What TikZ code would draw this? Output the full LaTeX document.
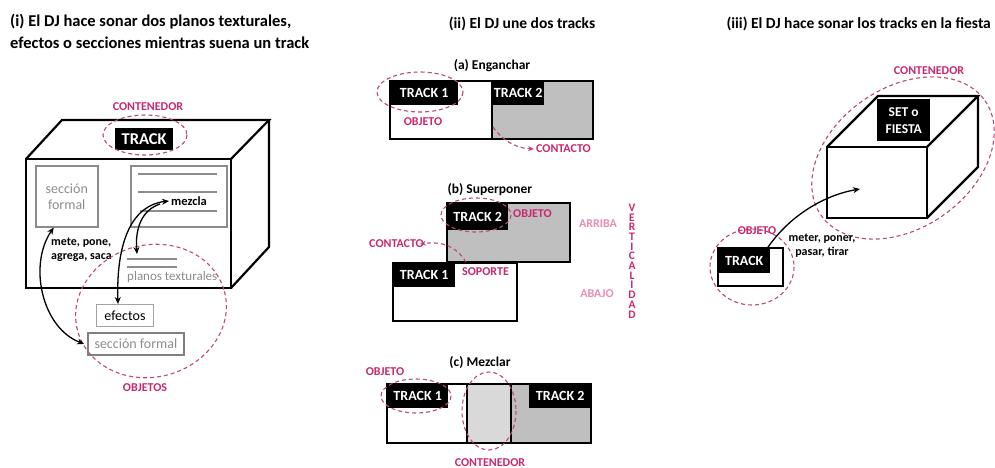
\documentclass[tikz,border=0pt]{standalone}
\usepackage{fontspec}
\setmainfont{Carlito}
\usetikzlibrary{arrows.meta}
\definecolor{pk}{RGB}{200,40,110}
\definecolor{pkl}{RGB}{232,140,180}
\definecolor{pkd}{RGB}{190,70,120}
\definecolor{gfill}{RGB}{191,191,191}
\definecolor{glt}{RGB}{217,217,217}
\definecolor{gtx}{RGB}{140,140,140}
\definecolor{gbd}{RGB}{128,128,128}
\begin{document}
\begin{tikzpicture}[x=1pt,y=-1pt,
  ttl/.style={font=\fontsize{16.5}{22}\selectfont\bfseries, inner sep=0, align=left},
  ttlb/.style={font=\fontsize{15.5}{20}\selectfont\bfseries, inner sep=0},
  sub/.style={font=\fontsize{13.5}{16}\selectfont\bfseries, inner sep=0},
  lab/.style={font=\fontsize{12}{14}\selectfont\bfseries, text=pk, inner sep=0},
  labl/.style={font=\fontsize{12}{14}\selectfont\bfseries, text=pkl, inner sep=0},
  blk/.style={fill=black, draw=none, text=white, font=\fontsize{14}{16}\selectfont\bfseries, inner sep=0, anchor=north west},
  verb/.style={font=\fontsize{12}{14}\selectfont\bfseries, inner sep=0},
  thk/.style={line width=2.2pt, line join=miter},
  gline/.style={draw=gtx, line width=1.5pt},
  pdash/.style={draw=pkd, dash pattern=on 4pt off 3pt, line width=1.1pt},
  arr/.style={line width=1.3pt, -{Stealth[length=7pt,width=6pt]}},
  darr/.style={line width=1.3pt, {Stealth[length=7pt,width=6pt]}-{Stealth[length=7pt,width=6pt]}},
  parr/.style={draw=pkd, dash pattern=on 4pt off 3pt, line width=1.1pt, -{Stealth[length=6pt,width=5pt]}}
]
\useasboundingbox (0,0) rectangle (995,468);

% ---------- titles ----------
\node[ttl, anchor=north west] (t1) at (10,14) {(i) El DJ hace sonar dos planos texturales,\\efectos o secciones mientras suena un track};
\node[ttlb] (t2) at (522,24) {(ii) El DJ une dos tracks};
\node[ttlb, anchor=east] (t3) at (991,24) {(iii) El DJ hace sonar los tracks en la fiesta};

% ---------- panel (i) ----------
\draw[thk] (26,159) rectangle (231,288);
\draw[thk] (26,159) -- (62,120) -- (269,120) -- (231,159);
\draw[thk] (269,120) -- (269,247) -- (231,288);

\node[blk, minimum width=58, minimum height=22, font=\fontsize{16.5}{18}\selectfont\bfseries] (trk) at (115,128) {TRACK};
\draw[pdash] (145,135) ellipse [x radius=42, y radius=20];
\node[lab] (cont1) at (148,107) {CONTENEDOR};

\node[gline, anchor=north west, minimum width=62, minimum height=61, inner sep=0, text=gtx, align=center,
      font=\fontsize{14}{16}\selectfont] (sf1) at (35,165) {sección\\formal};
\node[gline, anchor=north west, minimum width=96, minimum height=61, inner sep=0] (mz) at (130,165) {};
\draw[gline] (138,174) -- (217,174);
\draw[gline] (138,192) -- (217,192);
\draw[gline] (140,211) -- (217,211);
\node[verb, anchor=west, font=\fontsize{12.5}{14}\selectfont\bfseries] (mzl) at (171,201) {mezcla};

\node[verb, anchor=west, align=left] (mete) at (51,250) {mete, pone,\\agrega, saca};

\draw[gline, line width=1.3pt] (127,259) -- (177,259);
\draw[gline, line width=1.3pt] (127,267) -- (177,267);
\node[inner sep=0, anchor=west, text=gtx, font=\fontsize{13}{15}\selectfont] (pl) at (127,277) {planos texturales};
\coordinate (plt) at (137,254);

\draw[pdash, rotate around={15:(151,311)}] (151,311) ellipse [x radius=76, y radius=66];
\node[draw=gtx!80, line width=1pt, anchor=north west, minimum width=57, minimum height=22, inner sep=0,
      font=\fontsize{14}{16}\selectfont] (ef) at (96,304) {efectos};
\node[draw=gbd, line width=1.8pt, anchor=north west, minimum width=96, minimum height=22, inner sep=0, text=gtx,
      font=\fontsize{14}{16}\selectfont] (sf2) at (87,332) {sección formal};
\node[lab] (objs) at (145,388) {OBJETOS};

\draw[darr] ([xshift=-7pt]ef.north) .. controls (116,240) and (133,205) .. ([xshift=-2pt]mzl.west);
\coordinate (bst) at (160,204);
\draw[arr] (bst) .. controls (142,210) and (135,228) .. (plt);
\draw[darr] ([xshift=-13pt]sf1.south) .. controls (28,265) and (42,328) .. ([xshift=-3pt]sf2.west);

% ---------- panel (ii) (a) ----------
\node[sub] (sa) at (492,66) {(a) Enganchar};
\fill[gfill] (492,81) rectangle (593,139);
\node[blk, minimum width=68, minimum height=24] (a1) at (390,81) {TRACK 1};
\node[blk, minimum width=52, minimum height=24] (a2) at (492,81) {TRACK 2};
\draw[thk, line width=2pt] (390,81) rectangle (593,139);
\draw[line width=2pt] (492,81) -- (492,139);
\draw[pdash] (420,92) ellipse [x radius=43, y radius=20];
\node[lab] (ao) at (423,122) {OBJETO};
\node[lab, anchor=west] (ac) at (536,149) {CONTACTO};
\coordinate (acs) at (493,127);
\draw[parr] (acs) .. controls (502,140) and (515,148) .. ([xshift=-2pt]ac.west);

% ---------- panel (ii) (b) ----------
\node[sub] (sb) at (490,190) {(b) Superponer};
\fill[gfill] (447,203) rectangle (570,262);
\node[blk, minimum width=61, minimum height=27] (b2) at (447,203) {TRACK 2};
\draw[line width=2pt] (447,203) rectangle (570,262);
\fill[white] (393,263) rectangle (517,321);
\node[blk, minimum width=62, minimum height=24] (b1) at (393,263) {TRACK 1};
\draw[line width=2pt] (393,263) rectangle (517,321);
\draw[pdash] (476,215) ellipse [x radius=35, y radius=17];
\node[lab, anchor=west] (bo) at (513,214) {OBJETO};
\node[lab, anchor=west] (bs) at (462,272) {SOPORTE};
\node[lab, anchor=east] (bc) at (424,244) {CONTACTO};
\coordinate (bcs) at (466,262);
\draw[parr] (bcs) .. controls (456,246) and (442,241) .. ([xshift=-4pt]bc.east);
\node[labl] (arr1) at (598,224) {ARRIBA};
\node[labl] (abj) at (597,294) {ABAJO};
\node[lab, align=center, font=\fontsize{11.5}{9.7}\selectfont\bfseries] (vert) at (632,261) {V\\E\\R\\T\\I\\C\\A\\L\\I\\D\\A\\D};

% ---------- panel (ii) (c) ----------
\node[sub] (sc) at (480,363) {(c) Mezclar};
\fill[glt] (467,384) rectangle (511,443);
\fill[gfill] (511,384) rectangle (591,443);
\node[blk, minimum width=61, minimum height=24] (c1) at (387,384) {TRACK 1};
\node[blk, minimum width=62, minimum height=24] (c2) at (529,384) {TRACK 2};
\draw[line width=2pt] (387,384) rectangle (591,443);
\draw[line width=1.4pt] (467,384) -- (467,443);
\draw[line width=1.6pt] (511,384) -- (511,443);
\draw[pdash] (416,396) ellipse [x radius=35, y radius=17];
\draw[pdash] (489,411) ellipse [x radius=27, y radius=39];
\node[lab] (co) at (385,372) {OBJETO};
\node[lab] (cc) at (490,463) {CONTENEDOR};

% ---------- panel (iii) ----------
\draw[thk] (827,147) rectangle (927,218);
\draw[thk] (827,147) -- (878,96) -- (978,96) -- (927,147);
\draw[thk] (978,96) -- (978,167) -- (927,218);
\node[blk, minimum width=53, minimum height=42, align=center, font=\fontsize{13.5}{17}\selectfont\bfseries] (set) at (877,99) {SET o\\FIESTA};
\node[lab] (cont3) at (929,71) {CONTENEDOR};
\draw[pdash, rotate around={35:(903,158)}] (903,158) ellipse [x radius=100, y radius=70];

\fill[white] (718,248) rectangle (783,286);
\node[blk, minimum width=52, minimum height=25] (tr3) at (718,248) {TRACK};
\draw[line width=2pt] (718,248) rectangle (783,286);
\draw[pdash] (752,267) ellipse [x radius=42, y radius=38];
\node[lab] (o3) at (757,231) {OBJETO};
\coordinate (fin) at (860,189);
\draw[arr] ([xshift=-3pt]tr3.north east) .. controls (790,215) and (825,195) .. (fin);
\node[verb, align=center] (mp) at (822,246) {meter, poner,\\pasar, tirar};
\end{tikzpicture}
\end{document}
